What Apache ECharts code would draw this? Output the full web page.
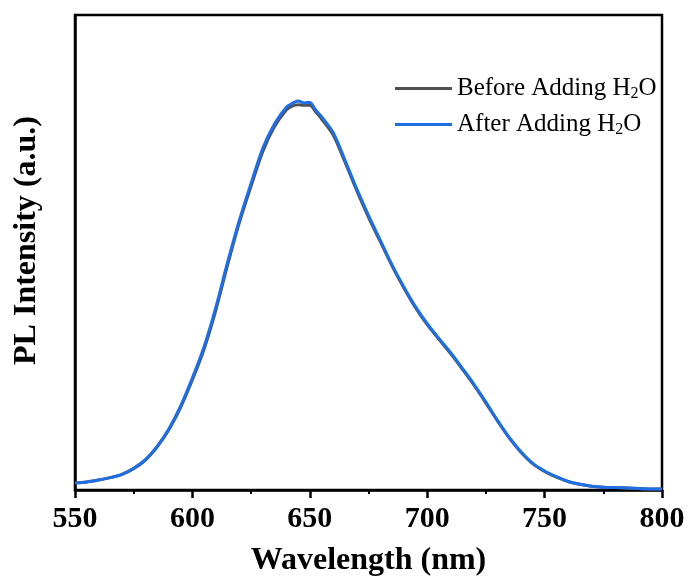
<!DOCTYPE html>
<html>
<head>
<meta charset="utf-8">
<script src="https://cdn.jsdelivr.net/npm/echarts@6/dist/echarts.min.js"></script>
<style>html,body{margin:0;padding:0;background:#fff;}#c{width:689px;height:579px;}</style>
</head>
<body>
<div id="c"></div>
<script>
const wavelengths = [550,555,560,565,570,575,580,585,590,595,600,605,610,615,620,625,630,635,640,642.5,645,647.5,650,652.5,655,660,665,670,675,680,685,690,695,700,705,710,715,720,725,730,735,740,745,750,755,760,765,770,775,780,785,790,795,800];
const afterValues = [15,17,21,26,33,46,64,92,129,177,236,302,385,480,568,646,720,771,806,814,819,815,816,800,786,752,694,634,578,526,474,428,386,350,319,289,256,222,185,146,110,80,56,40,28,18,12,8,6,5,4,3,2,2];
const beforeValues = [15,17,21,26,33,45,63,91,127,174,232,297,379,474,563,640,713,765,800,808,811,810,810,796,781,747,690,630,574,523,472,426,384,348,317,287,254,220,183,145,109,79,55,39,27,18,12,8,6,5,4,3,2,2];
const xTicks = {min: 550, max: 800, interval: 50};
const seriesNames = ['Before Adding H2O', 'After Adding H2O'];

const pair = (ys) => wavelengths.map((x, i) => [x, ys[i]]);
const font = 'Liberation Serif';

const chart = echarts.init(document.getElementById('c'));
chart.setOption({
  animation: false,
  backgroundColor: '#fff',
  grid: {left: 75, right: 27, top: 15, bottom: 89, show: true, borderColor: '#000', borderWidth: 2.5, outerBoundsMode: 'none', containLabel: false},
  legend: {
    orient: 'vertical', left: 390, top: 71, itemWidth: 57, itemHeight: 3, itemGap: 10,
    icon: 'rect',
    data: seriesNames,
    formatter: (n) => '{a|' + n.replace('H2O', 'H') + '}{s|2}{a|O}',
    textStyle: {
      fontFamily: font, color: '#000', fontSize: 25,
      rich: {a: {fontFamily: font, fontSize: 25, color: '#000'}, s: {fontFamily: font, fontSize: 16, color: '#000', padding: [11, 0, 0, 0]}}
    }
  },
  xAxis: {
    type: 'value', min: xTicks.min, max: xTicks.max, interval: xTicks.interval,
    name: 'Wavelength (nm)', nameLocation: 'middle', nameGap: 55,
    nameTextStyle: {fontFamily: font, fontWeight: 'bold', fontSize: 32, color: '#000'},
    axisLine: {show: true, lineStyle: {color: '#000', width: 2.5}},
    axisTick: {show: true, inside: false, length: 8, lineStyle: {color: '#000', width: 2.5}},
    minorTick: {show: true, splitNumber: 2, length: 4, lineStyle: {color: '#000', width: 2}},
    axisLabel: {fontFamily: font, fontWeight: 'bold', fontSize: 30, color: '#000', margin: 14},
    splitLine: {show: false}
  },
  yAxis: {
    type: 'value', min: 0, max: 1000,
    name: 'PL Intensity (a.u.)', nameLocation: 'middle', nameGap: 32,
    nameTextStyle: {fontFamily: font, fontWeight: 'bold', fontSize: 32, color: '#000', padding: [0, 0, 0, 24]},
    axisLine: {show: true, lineStyle: {color: '#000', width: 2.5}},
    axisTick: {show: false}, axisLabel: {show: false}, splitLine: {show: false}
  },
  series: [
    {name: seriesNames[0], type: 'line', data: pair(beforeValues), symbol: 'none', smooth: 0.3,
     lineStyle: {color: '#505050', width: 3}, itemStyle: {color: '#505050'}},
    {name: seriesNames[1], type: 'line', data: pair(afterValues), symbol: 'none', smooth: 0.3,
     lineStyle: {color: '#1e6fe3', width: 3}, itemStyle: {color: '#1e6fe3'}}
  ]
});
</script>
</body>
</html>
